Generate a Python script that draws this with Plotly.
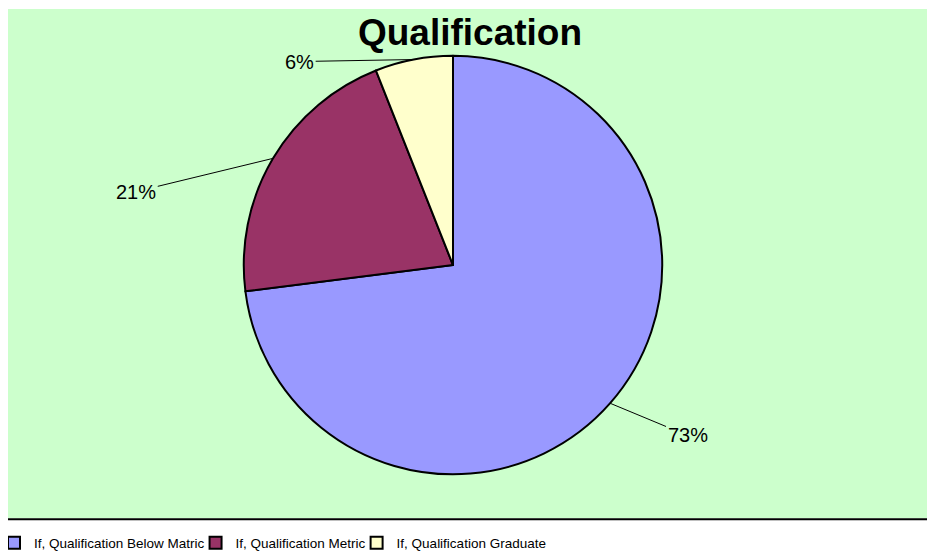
import math
import plotly.graph_objects as go

categories = ["If, Qualification Below Matric", "If, Qualification Metric", "If, Qualification Graduate"]
values = [73, 21, 6]
colors = ["#9999FF", "#993366", "#FFFFCC"]

# figure size (page body adds an 8px margin)
W, H = 927, 551
cx, cy, r = 445, 258, 210
FONT = "Liberation Sans, Arial, sans-serif"

fig = go.Figure(go.Pie(
    labels=categories,
    values=values,
    sort=False,
    direction="clockwise",
    rotation=0,
    marker=dict(colors=colors, line=dict(color="black", width=2)),
    textinfo="none",
    domain=dict(x=[(cx - r) / W, (cx + r) / W], y=[1 - (cy + r) / H, 1 - (cy - r) / H]),
    hoverinfo="label+percent",
))

# leader-line labels, anchored at the middle of each slice's outer edge
label_offsets = [(77, 32), (-136, 33), (-114, 2)]
total = sum(values)
annotations = []
cum = 0
for v, (ax, ay) in zip(values, label_offsets):
    mid = (cum + v / 2) / total * 2 * math.pi
    cum += v
    tx = cx + r * math.sin(mid)
    ty = cy - r * math.cos(mid)
    annotations.append(dict(
        x=tx / W, y=1 - ty / H, xref="paper", yref="paper",
        text=f"{round(v / total * 100)}%", showarrow=True, arrowhead=0, arrowwidth=1,
        arrowcolor="black", ax=ax, ay=ay, standoff=0,
        font=dict(size=20, color="black", family=FONT),
    ))

fig.update_layout(
    width=W, height=H,
    margin=dict(l=0, r=0, t=0, b=0),
    paper_bgcolor="white",
    font=dict(family=FONT, color="black"),
    title=dict(text="<b>Qualification</b>", x=462 / W, xanchor="center", y=1 - 24 / H, yanchor="middle",
               font=dict(size=37, color="black", family=FONT)),
    shapes=[
        dict(type="rect", xref="paper", yref="paper", x0=0, x1=1, y0=1 - 512 / H, y1=1 - 1 / H,
             fillcolor="#CCFFCC", line=dict(width=0), layer="below"),
        dict(type="line", xref="paper", yref="paper", x0=0, x1=1, y0=1 - 513 / H, y1=1 - 513 / H,
             line=dict(color="black", width=2)),
    ],
    annotations=annotations,
    legend=dict(orientation="h", x=0, xanchor="left", y=1 - 537 / H, yanchor="middle",
                font=dict(size=13.5, color="black", family=FONT), indentation=-14,
                bgcolor="rgba(0,0,0,0)", traceorder="normal", itemwidth=30),
    showlegend=True,
)

fig.write_html("out.html")
